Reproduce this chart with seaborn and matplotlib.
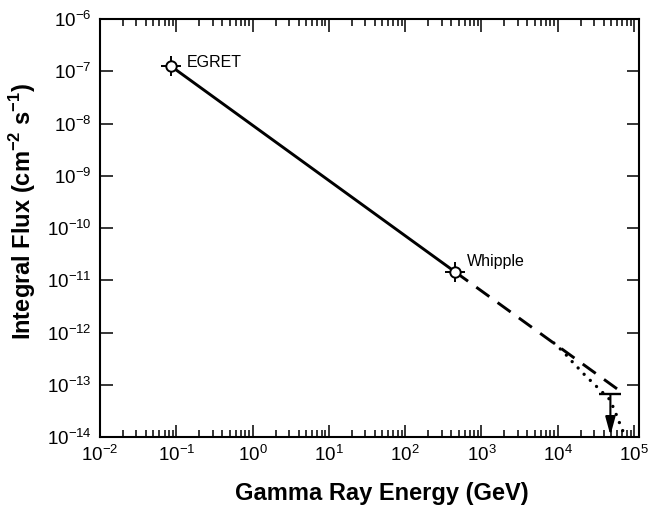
import numpy as np
import pandas as pd
import matplotlib
matplotlib.use('Agg')
import matplotlib.pyplot as plt
import matplotlib.ticker as mticker
import seaborn as sns

# measured points (GeV, cm^-2 s^-1)
obs_names = ['EGRET', 'Whipple']
obs_energy = [0.085, 450.0]
obs_flux = [1.25e-7, 1.45e-11]

# power-law extrapolation beyond Whipple
extrap_energy = [450.0, 7.5e4]
extrap_flux = [1.45e-11, 6.6e-14]

# curved (cutoff) branch
cut_energy = [8.9e3, 1.2e4, 1.5e4, 2.3e4, 2.9e4, 4.7e4, 5.4e4, 6.1e4, 6.9e4, 7.8e4]
cut_flux = [6.3e-13, 4.2e-13, 2.9e-13, 1.5e-13, 1.08e-13, 5.4e-14, 3.6e-14, 2.3e-14, 1.45e-14, 1.0e-14]

# upper limit
ul_energy = 4.9e4
ul_flux = 6.6e-14
ul_arrow_to = 1.08e-14

sns.set_style('ticks')
plt.rcParams['font.family'] = ['Liberation Sans', 'DejaVu Sans']
plt.rcParams['mathtext.fontset'] = 'custom'
plt.rcParams['mathtext.rm'] = 'Liberation Sans'
plt.rcParams['mathtext.bf'] = 'Liberation Sans:bold'
plt.rcParams['axes.unicode_minus'] = False
plt.rcParams['text.color'] = 'black'
plt.rcParams['axes.labelcolor'] = 'black'

fig = plt.figure(figsize=(6.5, 5.07), dpi=100)
ax = fig.add_axes([0.154, 0.138, 0.829, 0.8245])

obs_df = pd.DataFrame({'energy': obs_energy, 'flux': obs_flux})
ext_df = pd.DataFrame({'energy': extrap_energy, 'flux': extrap_flux})
cut_df = pd.DataFrame({'energy': cut_energy, 'flux': cut_flux})

sns.lineplot(data=obs_df, x='energy', y='flux', color='black', linewidth=2.1, ax=ax)
sns.lineplot(data=ext_df, x='energy', y='flux', color='black', linewidth=2.1,
             linestyle=(0, (5.5, 3.5)), ax=ax)
sns.lineplot(data=cut_df, x='energy', y='flux', color='black', linewidth=2.4,
             linestyle=(0, (0.01, 2.6)), dash_capstyle='round', sort=False, ax=ax)

# data points: cross + open circle
ax.plot(obs_energy, obs_flux, linestyle='none', marker='+', markersize=14,
        markeredgewidth=1.4, color='black', zorder=4)
ax.plot(obs_energy, obs_flux, linestyle='none', marker='o', markersize=7.5,
        markerfacecolor='white', markeredgecolor='black', markeredgewidth=1.4, zorder=5)

# upper limit bar + arrow
ax.plot([ul_energy], [ul_flux], marker='_', markersize=16, markeredgewidth=1.7,
        color='black', linestyle='none')
ax.annotate('', xy=(ul_energy, ul_arrow_to), xytext=(ul_energy, ul_flux),
            arrowprops=dict(arrowstyle='-|>,head_length=1.1,head_width=0.3',
                            color='black', lw=1.5, shrinkA=0, shrinkB=0))

ax.text(obs_energy[0] * 1.6, obs_flux[0] * 1.2, obs_names[0], fontsize=11.5,
        va='center', ha='left')
ax.text(obs_energy[1] * 1.45, obs_flux[1] * 1.6, obs_names[1], fontsize=11.5,
        va='center', ha='left')

ax.set_xscale('log')
ax.set_yscale('log')
ax.set_xlim(1e-2, 1.16e5)
ax.set_ylim(1e-14, 1e-6)

ax.xaxis.set_major_locator(mticker.LogLocator(base=10, numticks=20))
ax.xaxis.set_minor_locator(mticker.LogLocator(base=10, subs=np.arange(2, 10), numticks=20))
ax.xaxis.set_minor_formatter(mticker.NullFormatter())
ax.yaxis.set_major_locator(mticker.LogLocator(base=10, numticks=20))
ax.yaxis.set_minor_locator(mticker.NullLocator())

ax.tick_params(which='both', direction='in', top=True, right=True, width=1.1, colors='black',
               labelsize=13.5)
ax.tick_params(which='major', length=9, pad=6)
ax.tick_params(which='minor', length=5)
for s in ax.spines.values():
    s.set_linewidth(1.5)
    s.set_color('black')

ax.set_xlabel('Gamma Ray Energy (GeV)', fontsize=17, fontweight='bold')
ax.set_ylabel(r'Integral Flux (cm$^{\mathbf{-2}}$ s$^{\mathbf{-1}}$)', fontsize=17,
              fontweight='bold')
ax.xaxis.set_label_coords(0.522, -0.108)
ax.yaxis.set_label_coords(-0.115, 0.54)

fig.savefig('out.png', dpi=100)
